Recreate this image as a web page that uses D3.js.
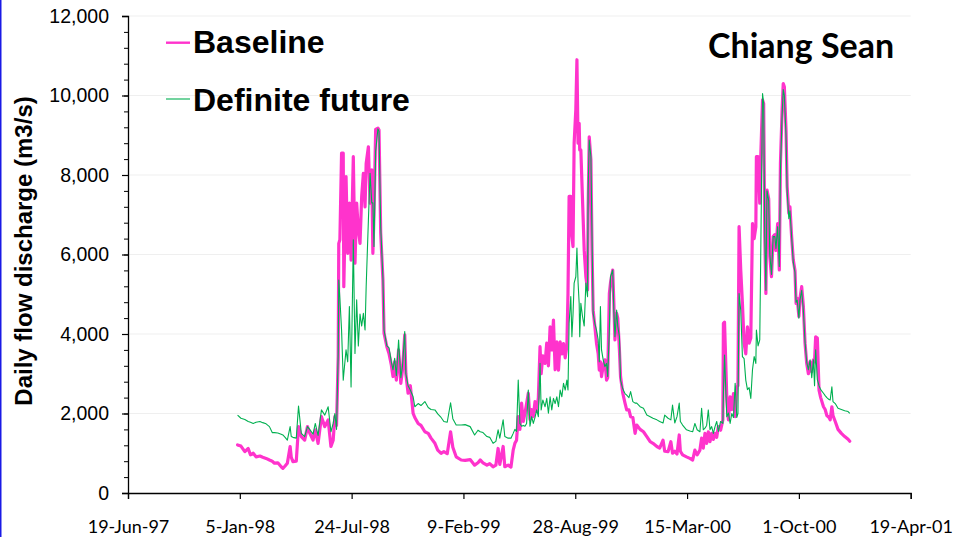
<!DOCTYPE html>
<html>
<head>
<meta charset="utf-8">
<script src="https://cdn.jsdelivr.net/npm/d3@7"></script>
<style>
  html, body { margin: 0; padding: 0; background: #fff; }
  svg { display: block; }
</style>
</head>
<body>
<div id="chart"></div>
<script>
// ---------------- DATA ----------------
// Day offsets counted from 1 January 1998 (the first record of both series)
const seriesStart = "1998-01-01";
const days = [
0,6,13,19,23,28,33,40,45,51,57,62,66,72,78,81,85,89,94,96,99,105,109,114,120,125,129,135,139,144,
150,156,162,167,171,174,177,180,181,183,186,189,190,194,197,200,203,207,210,213,216,219,222,225,228,230,234,237,240,242,
244,247,251,253,256,260,262,267,271,275,278,281,284,288,292,295,299,301,305,309,314,317,323,328,335,341,346,353,358,364,
369,375,381,385,391,400,407,416,424,430,434,439,446,451,457,462,466,469,475,478,484,489,493,496,499,502,505,508,511,514,
517,520,523,526,529,532,535,538,541,543,546,550,553,556,559,562,565,568,571,574,577,580,583,586,589,591,593,596,598,600,
602,605,607,609,611,612,614,617,620,623,626,627,629,632,634,636,639,642,645,647,649,651,654,657,660,662,665,667,671,673,
675,678,680,683,685,689,693,696,700,703,707,711,714,720,726,732,738,743,750,755,761,764,770,775,778,782,786,790,792,796,
803,809,814,818,822,827,830,833,836,839,842,845,848,851,854,857,860,864,868,869,871,875,878,881,884,887,890,893,895,897,
900,903,906,909,912,915,918,921,924,927,928,931,934,936,939,941,943,945,947,950,952,955,958,961,963,966,969,971,974,976,
978,981,983,986,988,991,994,997,999,1001,1004,1006,1009,1012,1015,1018,1021,1024,1027,1030,1032,1034,1037,1040,1043,1048,1051,1054,1058,1060,
1063,1065,1069,1074,1080,1086,1092,1095
];
// Baseline daily flow (m3/s)
const baseline = [
1210,1180,1040,1120,960,1000,910,930,900,870,830,800,750,760,660,620,680,750,1170,900,790,800,1670,1420,1330,1670,1510,1330,1590,1250,
1920,1670,1840,1170,1330,1920,1700,3430,6280,6370,8550,8550,5190,7960,6030,7290,5860,8460,5780,7290,6620,6280,7460,8040,7200,8290,8710,7290,8130,6030,
7000,9150,9180,9130,6540,5360,4020,3680,3500,3220,2930,3300,2840,3600,2760,3100,3980,3000,2510,2700,2005,1900,1750,1700,1540,1500,1380,1250,1080,1000,
1040,990,1540,1150,910,830,820,840,700,760,830,760,700,740,660,700,1120,720,1170,660,700,650,1080,1250,1330,1920,1600,2260,1800,2000,
2250,2510,1850,2100,1920,2300,2050,2400,3680,3000,3450,3260,3770,3200,4180,3600,4350,3100,3800,3090,3800,3500,3760,3400,3700,5020,7460,7460,6450,6200,
8800,9640,10900,8800,9300,8630,8630,7370,6110,5440,5110,7120,8960,8380,6110,4600,4200,3770,3500,3090,3300,2930,3200,3350,2840,2900,5020,5280,5610,4800,
3850,4520,4400,3600,2930,2510,2260,2090,2090,1920,1900,1500,1710,1600,1540,1420,1290,1250,1170,1130,1330,1050,1040,1290,1000,1050,980,1460,1050,960,
910,870,830,1080,960,1080,1380,1130,1500,1250,1540,1290,1500,1350,1500,1400,1670,1580,1840,4270,4300,2420,1840,2420,2100,2500,1920,2670,2700,6700,
5610,4770,3770,3500,4180,3770,3900,6780,6400,6700,8460,8460,7290,8550,9890,9800,6450,5020,7620,7400,5950,5440,6450,6500,6100,6780,5610,8290,9640,10300,
10220,9130,7710,7040,7200,6450,5860,5600,4770,4900,4440,4900,5190,4700,3770,3260,3000,3300,3050,3350,3300,3930,3900,2590,2400,2170,2100,1950,1900,1840,
2170,1950,1800,1600,1500,1420,1350,1300
];
// Definite future daily flow (m3/s)
const definiteFuture = [
1960,1880,1850,1800,1780,1750,1780,1800,1770,1740,1670,1520,1520,1510,1480,1460,1400,1330,1670,1420,1400,1380,2190,1500,1420,1670,1600,1480,1750,1450,
2090,1960,2170,1540,1750,2000,1600,3520,5360,4900,4100,2840,3000,3600,3300,4690,2670,6370,3510,4860,3700,4500,4200,4520,4100,5190,6870,8040,7300,7300,
6200,8600,9160,9100,6700,5400,4100,3700,3650,3300,3100,3390,2950,3850,2900,3200,4060,3000,2700,2590,2420,2170,2250,2200,2300,2150,2100,2090,1990,1900,
1800,1780,2270,1870,1710,1710,1720,1670,1460,1580,1540,1520,1420,1400,1250,1300,1590,1380,1840,1420,1380,1380,1500,1600,1550,2840,1750,1680,1700,1680,
1750,2590,1680,1920,1750,1900,2090,1920,3260,2090,2340,2170,2380,2005,2420,2090,2380,2250,2420,2170,2590,2420,2760,2590,2840,2590,4270,4940,3930,4500,
5280,5440,6160,5300,4770,3930,4770,4440,4200,5280,4940,7600,8880,8460,6450,4520,4270,4100,3850,3300,4690,3600,3350,3180,3260,2930,4100,5440,5610,4600,
3930,4600,4200,3940,2840,2620,2500,2460,2400,2550,2300,2260,2260,2170,2130,1960,1920,1880,1840,1800,1760,1960,1880,1840,2210,1760,1920,2260,1800,1710,
1590,1560,1540,1750,1590,1540,2130,1590,1630,1700,2090,1590,1670,1500,1670,1800,1550,1800,1750,2500,3470,1920,2010,1750,2000,1900,2760,1900,2000,5020,
4600,3430,3380,2840,2600,2650,2380,3100,3430,3260,4100,3700,3850,6280,10050,9800,6450,5100,7600,7350,6000,5500,6450,6450,6150,6700,5700,8100,9500,10150,
10000,9000,7600,6900,7100,6450,5800,5550,4800,4850,4400,4850,5100,4600,3800,3300,3100,3350,2900,3350,2700,3600,2850,2700,2600,2510,2450,2400,2350,2340,
2670,2300,2250,2130,2100,2070,2050,2005
];
const seriesNames = ["Baseline", "Definite future"];
const stationName = "Chiang Sean";
const yAxisTitle = "Daily flow discharge (m3/s)";
const xTickStart = "1997-06-19";
const xTickEnd = "2001-04-19";
const xTickStepDays = 200;
const yTicks = [0, 2000, 4000, 6000, 8000, 10000, 12000];
const yMinorStep = 400;

// ---------------- CHART ----------------
(function () {
const W = 953, H = 537;
const svg = d3.select("#chart").append("svg")
  .attr("width", W).attr("height", H)
  .attr("viewBox", `0 0 ${W} ${H}`);

svg.append("rect").attr("x", 0).attr("y", 0).attr("width", W).attr("height", H).attr("fill", "#fff");
// left frame edge
svg.append("line").attr("x1", 0.75).attr("x2", 0.75).attr("y1", 0).attr("y2", H)
  .attr("stroke", "#1a1ae6").attr("stroke-width", 1.5);

const parse = d3.utcParse("%Y-%m-%d");
const t0 = parse(xTickStart), t1 = parse(xTickEnd);
const base = parse(seriesStart);

const pL = 128, pR = 910.7, pT = 16, pB = 493;
const x = d3.scaleUtc().domain([t0, t1]).range([pL, pR]);
const y = d3.scaleLinear().domain([0, 12000]).range([pB, pT]);

// grid
svg.append("g").selectAll("line").data(yTicks.filter(v => v > 0)).join("line")
  .attr("x1", pL).attr("x2", pR)
  .attr("y1", d => y(d)).attr("y2", d => y(d))
  .attr("stroke", "#efefef").attr("stroke-width", 1);

const dataB = days.map((d, i) => ({ date: d3.utcDay.offset(base, d), v: baseline[i] }));
const dataF = days.map((d, i) => ({ date: d3.utcDay.offset(base, d), v: definiteFuture[i] }));

const line = d3.line().x(d => x(d.date)).y(d => y(d.v));

svg.append("path").datum(dataB).attr("d", line)
  .attr("fill", "none").attr("stroke", "#ff33cc").attr("stroke-width", 3.2)
  .attr("stroke-linejoin", "round").attr("stroke-linecap", "round");
svg.append("path").datum(dataF).attr("d", line)
  .attr("fill", "none").attr("stroke", "#00b050").attr("stroke-width", 1.1)
  .attr("stroke-linejoin", "round");

// x axis
const nTicks = Math.round((t1 - t0) / 86400000 / xTickStepDays);
const xTickVals = d3.range(0, nTicks + 1).map(i => d3.utcDay.offset(t0, i * xTickStepDays));
const gx = svg.append("g").attr("transform", `translate(0,${pB})`)
  .call(d3.axisBottom(x).tickValues(xTickVals).tickSize(6).tickFormat(d3.utcFormat("%-d-%b-%y")));
gx.select(".domain").attr("stroke", "#000").attr("stroke-width", 1.3);
gx.selectAll(".tick line").attr("stroke", "#000").attr("stroke-width", 1.2);
gx.selectAll("text").attr("y", 40).attr("dy", 0)
  .attr("font-family", "Lato, 'Open Sans', sans-serif").attr("font-size", 18).attr("fill", "#000");

// y axis minor ticks
const gyMinor = svg.append("g").attr("transform", `translate(${pL},0)`)
  .call(d3.axisLeft(y).tickValues(d3.range(0, 12001, yMinorStep)).tickSize(4).tickFormat(""));
gyMinor.select(".domain").remove();
gyMinor.selectAll(".tick line").attr("stroke", "#000").attr("stroke-width", 1);

// y axis
const gy = svg.append("g").attr("transform", `translate(${pL},0)`)
  .call(d3.axisLeft(y).tickValues(yTicks).tickSize(6).tickPadding(13).tickFormat(d3.format(",")));
gy.select(".domain").attr("stroke", "#000").attr("stroke-width", 1.3);
gy.selectAll(".tick line").attr("stroke", "#000").attr("stroke-width", 1.2);
gy.selectAll("text").attr("font-family", "'Liberation Sans', Arial, sans-serif")
  .attr("font-size", 19.5).attr("fill", "#000");

// y title
svg.append("text").attr("transform", "translate(32,251) rotate(-90)")
  .attr("text-anchor", "middle")
  .attr("font-family", "'Liberation Sans', Arial, sans-serif").attr("font-weight", "bold")
  .attr("font-size", 24).attr("fill", "#000").text(yAxisTitle);

// legend
const legendItems = [
  { name: seriesNames[0], color: "#ff33cc", width: 2.4, ly: 42.7, ty: 53 },
  { name: seriesNames[1], color: "#00b050", width: 1.1, ly: 99, ty: 111 }
];
const lg = svg.append("g");
legendItems.forEach(it => {
  lg.append("line").attr("x1", 166).attr("x2", 190).attr("y1", it.ly).attr("y2", it.ly)
    .attr("stroke", it.color).attr("stroke-width", it.width);
  lg.append("text").attr("x", 193).attr("y", it.ty)
    .attr("font-family", "'Liberation Sans', Arial, sans-serif").attr("font-weight", "bold")
    .attr("font-size", 32).attr("fill", "#000").text(it.name);
});

// station title
svg.append("text").attr("x", 708).attr("y", 58)
  .attr("font-family", "Lato, 'Open Sans', sans-serif").attr("font-weight", "bold")
  .attr("font-size", 34).attr("fill", "#000").text(stationName);
})();
</script>
</body>
</html>
